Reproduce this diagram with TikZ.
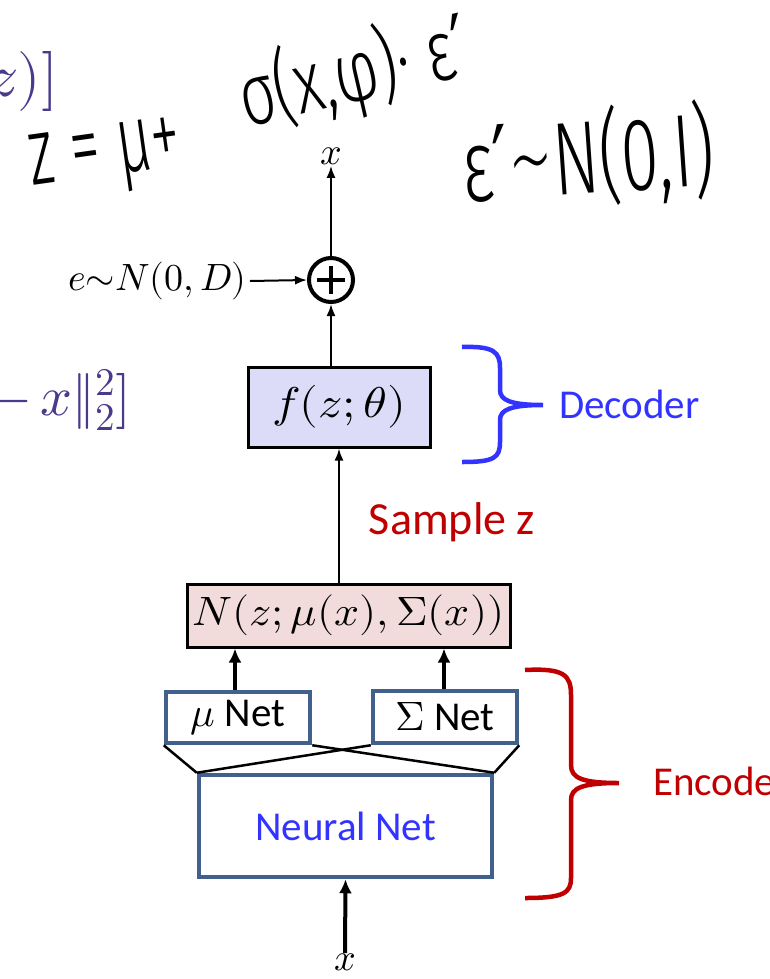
\documentclass[tikz,border=0pt]{standalone}
\usepackage{fontspec}
\usepackage{unicode-math}
\setmathfont{Latin Modern Math}
\newfontfamily\calib{Carlito}
\newfontfamily\hand{Fira Sans Light}
\newfontfamily\dvs{DejaVu Sans ExtraLight}
\newfontfamily\dvr{DejaVu Sans}
\usetikzlibrary{arrows.meta}
\definecolor{decfill}{HTML}{DCDCF9}
\definecolor{nfill}{HTML}{F2DCDB}
\definecolor{netblue}{HTML}{41618C}
\definecolor{txtblue}{HTML}{3333FF}
\definecolor{darkred}{HTML}{C00000}
\definecolor{purp}{HTML}{4B3A8C}
\tikzset{
  arr/.style={-{Latex[length=12pt,width=9pt]}, line width=2pt},
  thickarr/.style={-{Latex[length=14pt,width=13pt]}, line width=4pt},
  blackbox/.style={draw=black, line width=3pt, inner sep=0pt},
  netbox/.style={draw=netblue, line width=4.5pt, fill=white, inner sep=0pt},
  handtxt/.style={inner sep=0pt},
}
\begin{document}
\begin{tikzpicture}[x=1pt,y=-1pt]
\useasboundingbox (0,0) rectangle (769,979);

% partial formulas on the left
\node[anchor=east, text=purp, inner sep=0pt, font=\fontsize{60}{62}\selectfont] (f1) at (58,82) {$z)]$};
\node[anchor=east, text=purp, inner sep=0pt, font=\fontsize{56}{58}\selectfont] (f2) at (131,400) {$-\,x\|_2^2]$};

% handwritten notes
\node[handtxt, rotate=8] (h1) at (106,160) {\scalebox{1}[1.6]{\hand\fontsize{60}{62}\selectfont z\hspace{18pt}=\hspace{16pt}μ+}};
\node[handtxt, rotate=13] (h2) at (354,74) {\scalebox{1}[1.4]{\hand\fontsize{62}{64}\selectfont σ(x,φ)· ε{\dvr ′}}};
\node[handtxt, rotate=4] (h3) at (588,158) {\scalebox{1}[1.5]{\hand\fontsize{69}{71}\selectfont ε{\dvr ′}{\dvs ∼}N(0,I)}};

% decoder part
\node[inner sep=1pt] (xtop) at (331,156) {\fontsize{38}{40}\selectfont$x$};
\node[circle, draw=black, line width=4pt, minimum size=44pt, inner sep=0pt] (plus) at (331,280) {};
\draw[line width=4pt] ([yshift=14pt]plus.center) -- ([yshift=-14pt]plus.center);
\draw[line width=4pt] ([xshift=-14pt]plus.center) -- ([xshift=14pt]plus.center);
\node[anchor=east, inner sep=0pt] (noise) at (247,281) {\fontsize{38}{40}\selectfont$e{\sim}N(0,D)$};
\draw[arr] ([xshift=3pt]noise.east) -- (plus.west);
\draw[arr] (plus.north) -- (xtop.south);

\node[blackbox, fill=decfill, minimum width=182pt, minimum height=80pt] (fbox) at (339,407) {\scalebox{1.12}[1]{\fontsize{43}{45}\selectfont$f(z;\theta)$}};
\draw[arr] (fbox.north -| plus.south) -- (plus.south);

\draw[txtblue, line width=4.5pt] (462,347) .. controls (494,346) and (500,352) .. (500,368) -- (500,390) .. controls (500,400) and (510,405) .. (543,405)
  .. controls (510,405) and (500,410) .. (500,420) -- (500,442) .. controls (500,458) and (494,462) .. (462,462);
\node[anchor=west, text=txtblue, inner sep=0pt, font=\calib\fontsize{41}{43}\selectfont] (dec) at (559,404) {Decoder};

\node[blackbox, fill=nfill, minimum width=323pt, minimum height=63pt] (nbox) at (348.5,615.5) {\scalebox{1.07}[1]{\fontsize{41}{43}\selectfont$N(z;\mu(x),\Sigma(x))$}};
\draw[arr] (fbox.south |- nbox.north) -- (fbox.south);
\node[text=darkred, inner sep=0pt, font=\calib\fontsize{46}{48}\selectfont] (samp) at (452,522) {Sample z};

% encoder part
\node[netbox, minimum width=144pt, minimum height=51pt] (mu) at (238,717.5) {\calib\fontsize{41}{43}\selectfont$\mu$ Net};
\node[netbox, minimum width=144pt, minimum height=52pt] (sig) at (445,717) {\calib\fontsize{41}{43}\selectfont$\Sigma$ Net};
\node[netbox, minimum width=293pt, minimum height=102pt] (nn) at (345.5,826) {\textcolor{txtblue}{\calib\fontsize{41}{43}\selectfont Neural Net}};
\draw[line width=2.5pt] (mu.south west) -- (nn.north west);
\draw[line width=2.5pt] (mu.south east) -- (nn.north east);
\draw[line width=2.5pt] (sig.south west) -- (nn.north west);
\draw[line width=2.5pt] (sig.south east) -- (nn.north east);
\draw[thickarr] ([xshift=-3pt]mu.north) -- ([xshift=-3pt]mu.north |- nbox.south);
\draw[thickarr] ([xshift=-1pt]sig.north) -- ([xshift=-1pt]sig.north |- nbox.south);

\node[inner sep=2pt] (xbot) at (345,962) {\fontsize{38}{40}\selectfont$x$};
\draw[thickarr] ([yshift=-2pt]xbot.north) -- (nn.south);

\draw[darkred, line width=4.5pt] (525,670) .. controls (564,668) and (571,675) .. (571,695) -- (571,765) .. controls (571,778) and (582,783) .. (619,783)
  .. controls (582,783) and (571,788) .. (571,800) -- (571,878) .. controls (571,893) and (564,898) .. (525,898);
\node[anchor=west, text=darkred, inner sep=0pt, font=\calib\fontsize{41}{43}\selectfont] (enc) at (653,781) {Encoder};
\end{tikzpicture}
\end{document}
